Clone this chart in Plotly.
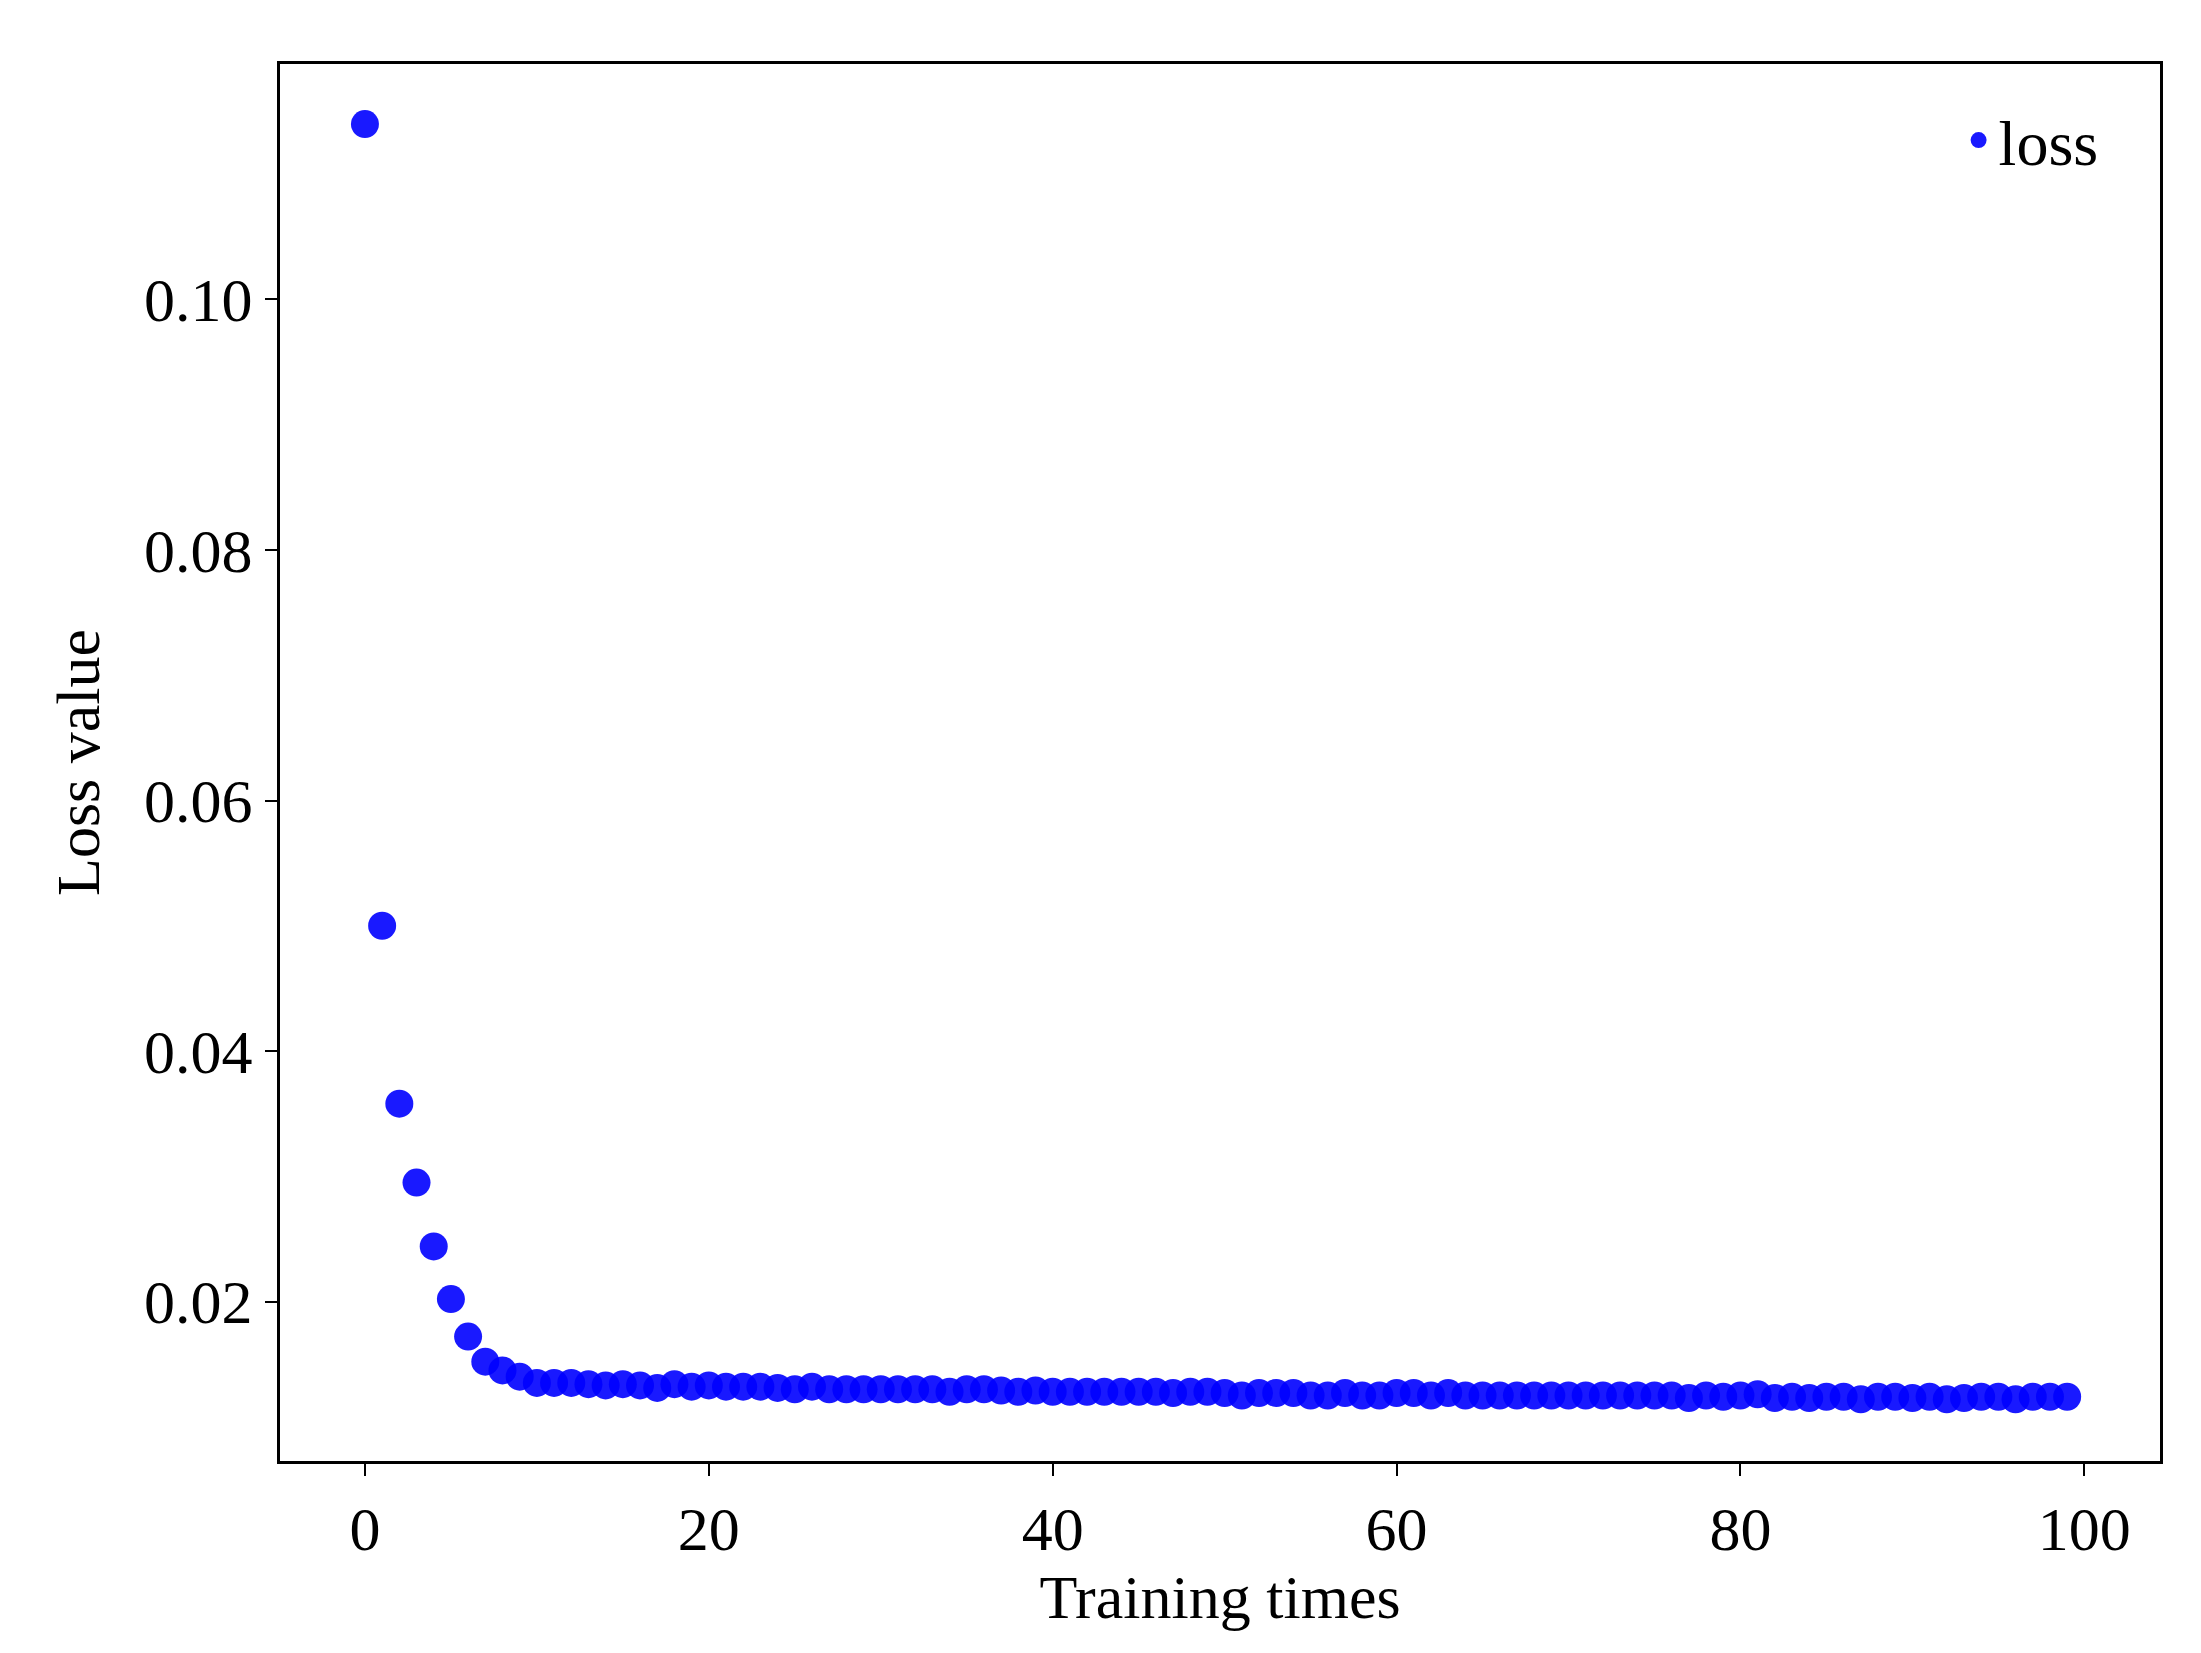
import plotly.graph_objects as go

epochs = list(range(100))
loss = [
    0.1140, 0.0500, 0.0358, 0.0295, 0.0244, 0.0202, 0.0172, 0.0152, 0.0145, 0.0140,
    0.0135, 0.0135, 0.0135, 0.0134, 0.0133, 0.0134, 0.0133, 0.0131, 0.0134, 0.0132,
    0.0133, 0.0132, 0.0132, 0.0132, 0.0131, 0.0130, 0.0132, 0.0130, 0.0130, 0.0130,
    0.0130, 0.0130, 0.0130, 0.0130, 0.0128, 0.0130, 0.0130, 0.0129, 0.0128, 0.0129,
    0.0128, 0.0128, 0.0128, 0.0128, 0.0128, 0.0128, 0.0128, 0.0127, 0.0128, 0.0128,
    0.0127, 0.0125, 0.0127, 0.0127, 0.0127, 0.0125, 0.0125, 0.0127, 0.0125, 0.0125,
    0.0127, 0.0127, 0.0125, 0.0127, 0.0125, 0.0125, 0.0125, 0.0125, 0.0125, 0.0125,
    0.0125, 0.0125, 0.0125, 0.0125, 0.0125, 0.0125, 0.0125, 0.0123, 0.0125, 0.0124,
    0.0125, 0.0126, 0.0123, 0.0124, 0.0123, 0.0124, 0.0124, 0.0122, 0.0124, 0.0124,
    0.0123, 0.0124, 0.0122, 0.0123, 0.0124, 0.0124, 0.0122, 0.0124, 0.0124, 0.0124,
]

fig = go.Figure(go.Scatter(
    x=epochs, y=loss, mode="markers", name="loss",
    marker=dict(color="#0000ff", size=28, opacity=0.9, line=dict(width=0)),
))

axis_style = dict(
    showline=True, linecolor="black", linewidth=3, mirror=True,
    ticks="outside", ticklen=12, tickwidth=2, tickcolor="black",
    showgrid=False, zeroline=False,
    tickfont=dict(size=62), title_font=dict(size=62),
)

fig.update_xaxes(range=[-4.94, 104.4], tickvals=[0, 20, 40, 60, 80, 100],
                 title_text="Training times", title_standoff=10, **axis_style)
fig.update_yaxes(range=[0.00727, 0.1188], tickvals=[0.02, 0.04, 0.06, 0.08, 0.10],
                 tickformat=".2f", title_text="Loss value", title_standoff=25, **axis_style)

fig.update_layout(
    width=2201, height=1653,
    margin=dict(l=272, r=49, t=56, b=200),
    paper_bgcolor="white", plot_bgcolor="white",
    font=dict(family="Liberation Serif", color="black"),
    showlegend=True,
    legend=dict(x=0.97, y=0.98, xanchor="right", yanchor="top",
                font=dict(size=64), bgcolor="rgba(0,0,0,0)"),
)

fig.write_html("out.html")
